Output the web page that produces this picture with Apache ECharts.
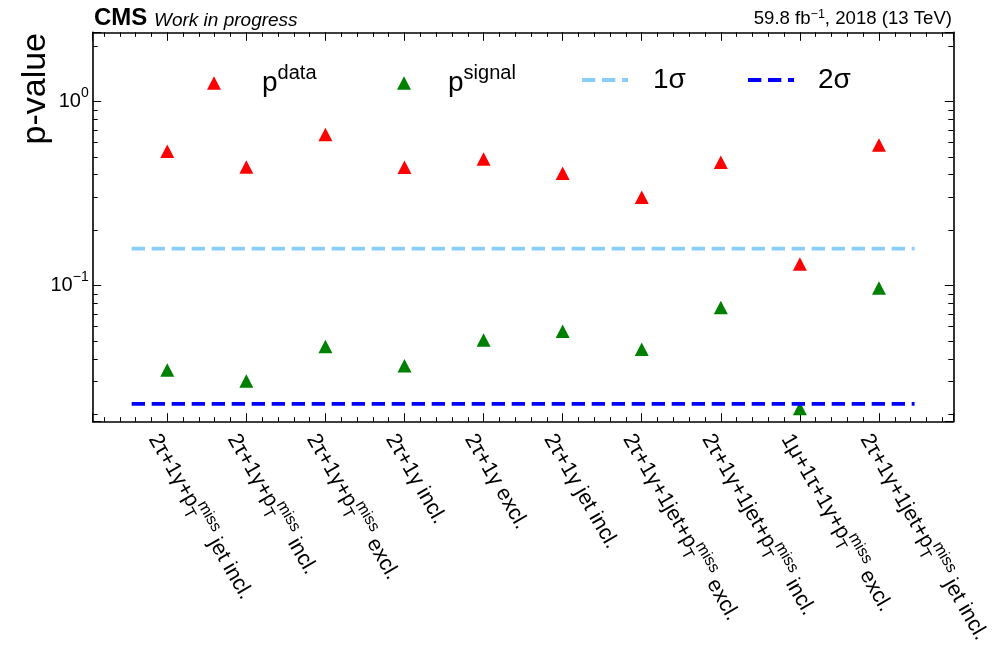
<!DOCTYPE html>
<html>
<head>
<meta charset="utf-8">
<script src="https://cdn.jsdelivr.net/npm/echarts@6/dist/echarts.min.js"></script>
<style>
  html, body { margin: 0; padding: 0; background: #fff; }
  #chart { width: 999px; height: 651px; }
</style>
</head>
<body>
<div id="chart"></div>
<script>
// Analysis channels (rich-text markup: {sub|..} subscript, {sup|..} superscript)
const channels = [
  '2τ+1γ+p{sub|T}{sup|miss} jet incl.',
  '2τ+1γ+p{sub|T}{sup|miss} incl.',
  '2τ+1γ+p{sub|T}{sup|miss} excl.',
  '2τ+1γ incl.',
  '2τ+1γ excl.',
  '2τ+1γ jet incl.',
  '2τ+1γ+1jet+p{sub|T}{sup|miss} excl.',
  '2τ+1γ+1jet+p{sub|T}{sup|miss} incl.',
  '1μ+1τ+1γ+p{sub|T}{sup|miss} excl.',
  '2τ+1γ+1jet+p{sub|T}{sup|miss} jet incl.'
];
const channelPos = [0, 1, 2, 3, 4, 5, 6, 7, 8, 9];

// p-values per channel
const pData   = [0.537, 0.441, 0.662, 0.439, 0.486, 0.407, 0.302, 0.468, 0.131, 0.580];
const pSignal = [0.0347, 0.0303, 0.0466, 0.0366, 0.0505, 0.0564, 0.0450, 0.0759, 0.0215, 0.0968];

// Significance reference levels
const sigmaNames  = ['1σ', '2σ'];
const sigmaValues = [0.1587, 0.02275];
const sigmaSpan   = [-0.45, 9.45];

// Axis ranges and decade labels
const xRange = [-0.943, 9.94];
const yRange = [0.0182, 2.375];
const yTickValues = [1, 0.1];
const yTickText   = ['{b|10}{s|0}', '{b|10}{s|−1}'];

const FONT = '"Liberation Sans", Arial, Helvetica, sans-serif';

const chart = echarts.init(document.getElementById('chart'), null, { renderer: 'canvas' });

const tickStyle = { color: '#000', width: 1 };
const axisLineStyle = { color: '#000', width: 1.6 };

function xLabel(v) {
  const i = channelPos.indexOf(v);
  return i >= 0 ? channels[i] : '';
}
function yLabel(v) {
  for (let i = 0; i < yTickValues.length; i++) {
    if (Math.abs(v - yTickValues[i]) < 1e-9) return yTickText[i];
  }
  return '';
}

const baseX = {
  type: 'value', min: xRange[0], max: xRange[1], splitNumber: 10,
  axisLine: { show: true, onZero: false, lineStyle: axisLineStyle },
  axisTick: { show: true, inside: true, length: 8.5, lineStyle: tickStyle },
  minorTick: { show: true, splitNumber: 5, length: 4.5, lineStyle: tickStyle },
  splitLine: { show: false }, minorSplitLine: { show: false }
};
const baseY = {
  type: 'log', logBase: 10, min: yRange[0], max: yRange[1],
  axisLine: { show: true, onZero: false, lineStyle: axisLineStyle },
  axisTick: { show: true, inside: true, length: 8.5, lineStyle: tickStyle },
  minorTick: { show: true, splitNumber: 9, length: 5, lineStyle: tickStyle },
  splitLine: { show: false }, minorSplitLine: { show: false }
};

// Legend: one block per entry so each keeps its own icon size and spacing
const legendText = {
  'p data':   '{b|p}{s|data}',
  'p signal': '{b|p}{s|signal}',
  '1σ': '{b|1σ}',
  '2σ': '{b|2σ}'
};
const legendRich = {
  b: { fontSize: 28, fontFamily: FONT, color: '#000', lineHeight: 40 },
  s: { fontSize: 20, fontFamily: FONT, color: '#000', lineHeight: 20, verticalAlign: 'top' }
};
const dashIcon = 'path://M0,0H13.3V4H0Z M20,0H33.3V4H20Z M40,0H46V4H40Z';
function legendAt(name, left, top, icon, w, h, textGap) {
  return {
    show: true, data: [{ name: name, icon: icon }], left: left, top: top,
    orient: 'horizontal', padding: 0, itemGap: 0,
    itemWidth: w, itemHeight: h, selectedMode: false,
    formatter: (n) => legendText[n],
    textStyle: { fontSize: 28, fontFamily: FONT, color: '#000', rich: legendRich, padding: [0, 0, 0, textGap] }
  };
}

const option = {
  animation: false,
  backgroundColor: '#fff',
  textStyle: { fontFamily: FONT },
  grid: { left: 92.7, right: 45.7, top: 32.3, bottom: 229.3, containLabel: false },
  xAxis: [
    Object.assign({}, baseX, {
      position: 'bottom',
      axisLabel: {
        show: true, rotate: -60, margin: 6, align: 'left', verticalAlign: 'top',
        fontSize: 21.5, fontFamily: FONT, color: '#000', lineHeight: 32,
        formatter: xLabel,
        rich: {
          sub: { fontSize: 16, fontFamily: FONT, color: '#000', lineHeight: 15, verticalAlign: 'bottom', width: 1 },
          sup: { fontSize: 16, fontFamily: FONT, color: '#000', lineHeight: 15, verticalAlign: 'top' }
        }
      }
    }),
    Object.assign({}, baseX, { position: 'top', axisLabel: { show: false } })
  ],
  yAxis: [
    Object.assign({}, baseY, {
      position: 'left',
      axisLabel: {
        show: true, margin: 4, formatter: yLabel, color: '#000',
        rich: {
          b: { fontSize: 20, fontFamily: FONT, color: '#000', lineHeight: 30 },
          s: { fontSize: 14, fontFamily: FONT, color: '#000', lineHeight: 14, verticalAlign: 'top' }
        }
      }
    }),
    Object.assign({}, baseY, { position: 'right', axisLabel: { show: false } })
  ],
  legend: [
    legendAt('p data',   207, 63, 'triangle', 14, 13.5, 36),
    legendAt('p signal', 397, 63, 'triangle', 14, 13.5, 32),
    legendAt('1σ',       582, 66, dashIcon, 46, 4, 20),
    legendAt('2σ',       748, 66, dashIcon, 46, 4, 19)
  ],
  graphic: [
    { type: 'text', x: 94, y: 18.6, style: { text: 'CMS', font: 'bold 24px ' + FONT, fill: '#000', align: 'left', verticalAlign: 'middle' } },
    { type: 'text', x: 154, y: 20.3, style: { text: 'Work in progress', font: 'italic 19px ' + FONT, fill: '#000', align: 'left', verticalAlign: 'middle' } },
    { type: 'text', x: 952, y: 19.3, style: {
        text: '{m|59.8 fb}{s|−1}{m|, 2018 (13 TeV)}', align: 'right', verticalAlign: 'middle',
        rich: {
          m: { fontSize: 18.6, fontFamily: FONT, fill: '#000', lineHeight: 22 },
          s: { fontSize: 12.5, fontFamily: FONT, fill: '#000', lineHeight: 10, verticalAlign: 'top' }
        }
    } },
    { type: 'text', x: 36, y: 33, rotation: Math.PI / 2, style: { text: 'p-value', font: '34px ' + FONT, fill: '#000', align: 'right', verticalAlign: 'middle' } }
  ],
  series: [
    {
      name: 'p data', type: 'scatter', xAxisIndex: 0, yAxisIndex: 0,
      symbol: 'triangle', symbolSize: [14, 13.5],
      itemStyle: { color: '#ff0000', opacity: 1 },
      data: channelPos.map((x, i) => [x, pData[i]])
    },
    {
      name: 'p signal', type: 'scatter', xAxisIndex: 0, yAxisIndex: 0,
      symbol: 'triangle', symbolSize: [14, 13.5],
      itemStyle: { color: '#008000', opacity: 1 },
      data: channelPos.map((x, i) => [x, pSignal[i]])
    },
    {
      name: sigmaNames[0], type: 'line', xAxisIndex: 0, yAxisIndex: 0,
      symbol: 'none', showSymbol: false,
      lineStyle: { color: '#87cefa', width: 3.8, type: [13.3, 6.7], cap: 'butt' },
      itemStyle: { color: '#87cefa' },
      data: sigmaSpan.map(x => [x, sigmaValues[0]])
    },
    {
      name: sigmaNames[1], type: 'line', xAxisIndex: 0, yAxisIndex: 0,
      symbol: 'none', showSymbol: false,
      lineStyle: { color: '#0000ff', width: 3.8, type: [13.3, 6.7], cap: 'butt' },
      itemStyle: { color: '#0000ff' },
      data: sigmaSpan.map(x => [x, sigmaValues[1]])
    }
  ]
};

chart.setOption(option);
</script>
</body>
</html>
